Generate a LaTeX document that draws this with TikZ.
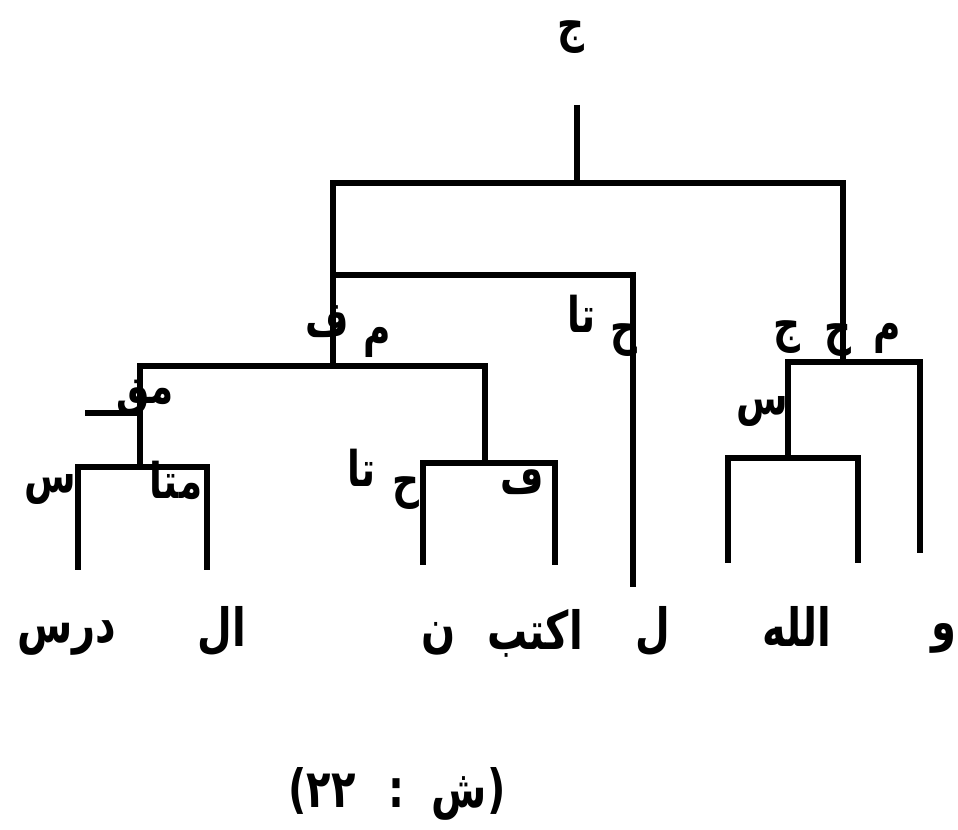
\documentclass[tikz,border=0pt]{standalone}
\usepackage{fontspec}
\newfontfamily\arabicfont[Script=Arabic, FakeStretch=0.76]{DejaVu Sans}
\TeXXeTstate=1
\newcommand{\ar}[1]{\beginR #1\endR}

\tikzset{
  tree/.style={line width=3.4pt, line join=miter},
  word/.style={font=\arabicfont\bfseries\fontsize{30}{34}\selectfont, inner sep=0pt},
  lbl/.style={font=\arabicfont\bfseries\fontsize{28}{32}\selectfont, inner sep=0pt},
}

\begin{document}
\begin{tikzpicture}[x=0.02cm, y=-0.02cm]
	\useasboundingbox (0,0) rectangle (958,830);

	% 語を配置
	\node[word] (dars) at (67,638) {\ar{درس}};
	\node[word] (al) at (222,631) {\ar{ال}};
	\node[word] (nun) at (439,639) {\ar{ن}};
	\node[word] (aktub) at (535,633) {\ar{اكتب}};
	\node[word] (lam) at (653,631) {\ar{ل}};
	\node[word] (allah) at (797,626) {\ar{الله}};
	\node[word] (waw) at (944,638) {\ar{و}};

	% 枝の端と分岐点
	\coordinate (top) at (577,105);
	\coordinate (rootj) at (577,183);
	\coordinate (A) at (333,366);
	\coordinate (B) at (843,362);
	\coordinate (lamj) at (633,275);
	\coordinate (A1) at (140,467);
	\coordinate (A2) at (485,463);
	\coordinate (B1) at (788,458);
	\coordinate (e-dars) at (78,570);
	\coordinate (e-al) at (207,570);
	\coordinate (e-nun) at (423,565);
	\coordinate (e-aktub) at (555,565);
	\coordinate (e-lam) at (633,587);
	\coordinate (e-allah1) at (728,563);
	\coordinate (e-allah2) at (858,563);
	\coordinate (e-waw) at (920,553);
	\coordinate (stub) at (85,413);

	% 枝を描画
	\draw[tree] (top) -- (rootj);
	\draw[tree] (A) -- (A |- rootj) -- (B |- rootj) -- (B);
	\draw[tree] (A |- lamj) -- (lamj) -- (e-lam);
	\draw[tree] (A1) -- (A1 |- A) -- (A2 |- A) -- (A2);
	\draw[tree] (e-dars) -- (e-dars |- A1) -- (e-al |- A1) -- (e-al);
	\draw[tree] (e-nun) -- (e-nun |- A2) -- (e-aktub |- A2) -- (e-aktub);
	\draw[tree] (B1) -- (B1 |- B) -- (e-waw |- B) -- (e-waw);
	\draw[tree] (e-allah1) -- (e-allah1 |- B1) -- (e-allah2 |- B1) -- (e-allah2);
	\draw[tree] (stub) -- (stub -| A1);

	% ラベル
	\node[lbl] (root) at (571,37) {\ar{ج}};
	\node[lbl] (a-fa) at (327,322) {\ar{ف}};
	\node[lbl] (a-mim) at (377,342) {\ar{م}};
	\node[lbl] (l-ha) at (624,340) {\ar{ح}};
	\node[lbl] (l-ta) at (582,314) {\ar{تا}};
	\node[lbl] (b-jim) at (787,337) {\ar{ج}};
	\node[lbl] (b-ha) at (838,340) {\ar{ح}};
	\node[lbl] (b-mim) at (887,338) {\ar{م}};
	\node[lbl] (b1-sin) at (762,412) {\ar{س}};
	\node[lbl] (a1-mq) at (145,398) {\ar{مق}};
	\node[lbl] (d-sin) at (50,490) {\ar{س}};
	\node[lbl] (al-mta) at (176,480) {\ar{متا}};
	\node[lbl] (n-ta) at (362,468) {\ar{تا}};
	\node[lbl] (n-ha) at (406,493) {\ar{ح}};
	\node[lbl] (k-fa) at (522,479) {\ar{ف}};

	% 図番号
	\node[word] (caption) at (397,794) {)\ar{ش \ : \ ٢٢}(};
\end{tikzpicture}
\end{document}
